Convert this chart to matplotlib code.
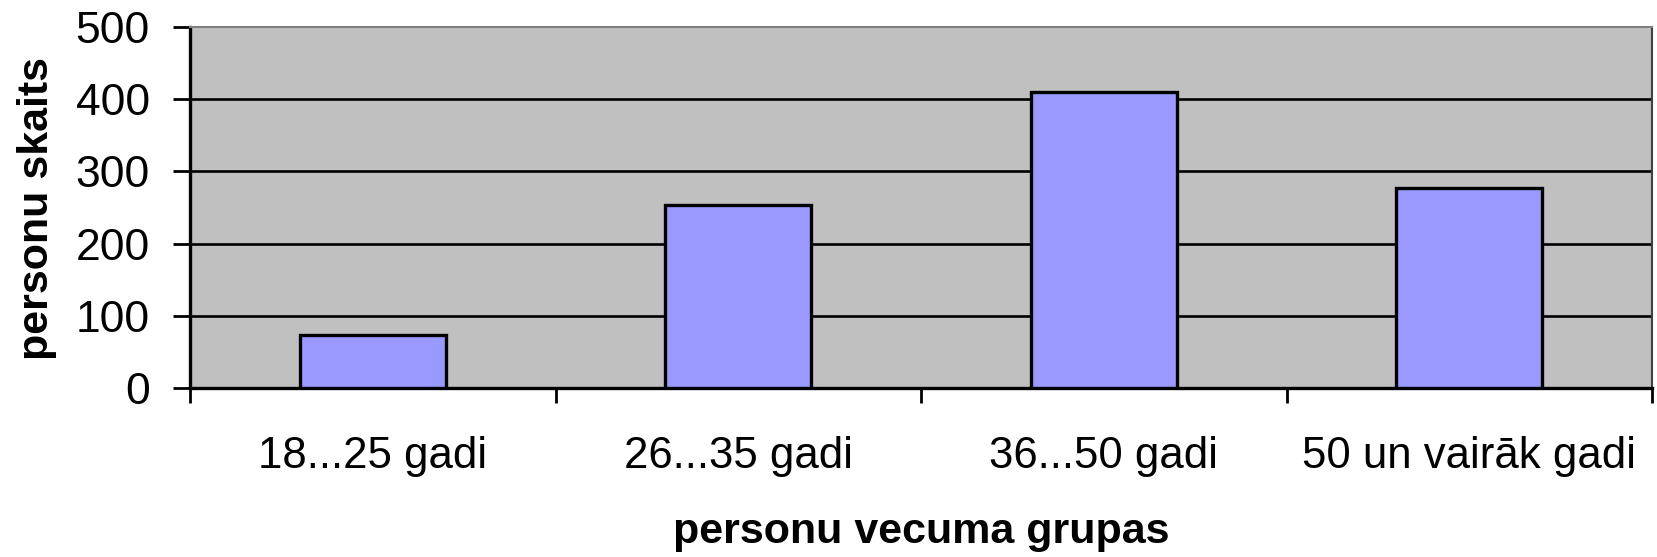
import matplotlib
matplotlib.use("Agg")
import matplotlib.pyplot as plt
import matplotlib.transforms as mtransforms
import numpy as np

categories = ["18...25 gadi", "26...35 gadi", "36...50 gadi", "50 un vairāk gadi"]
values = [73, 253, 410, 277]
y_ticks = [0, 100, 200, 300, 400, 500]

plt.rcParams['font.family'] = ['Liberation Sans', 'DejaVu Sans']

W, H = 1657, 557
fig = plt.figure(figsize=(W/100, H/100), dpi=100)
ax = fig.add_axes([190/W, 1-388/H, (1652-190)/W, (388-27)/H])
ax.set_facecolor('#c0c0c0')

x = np.arange(len(categories))
ax.bar(x, values, width=0.4, color='#9999ff', edgecolor='black', linewidth=2.4, zorder=3)

ax.set_xlim(-0.5, len(categories) - 0.5)
ax.set_ylim(0, 500)
ax.set_yticks(y_ticks)
ax.set_yticklabels([str(v) for v in y_ticks], fontsize=32)
for v in y_ticks[1:-1]:
    ax.axhline(v, color='black', linewidth=1.9, zorder=2)

ax.set_xticks(np.arange(-0.5, len(categories), 1.0))
ax.set_xticklabels([])
ax.tick_params(axis='x', which='major', length=11, width=2, direction='out')
ax.tick_params(axis='y', length=12, width=2, direction='out', pad=17)

trans = mtransforms.blended_transform_factory(ax.transData, fig.transFigure)
for xi, cat in zip(x, categories):
    ax.text(xi, 1 - 468/H, cat, transform=trans, ha='center', va='baseline', fontsize=31.5)

for s in ['left', 'bottom']:
    ax.spines[s].set_linewidth(2.4)
    ax.spines[s].set_color('black')
ax.spines['top'].set_color('#808080')
ax.spines['top'].set_linewidth(1.5)
ax.spines['right'].set_color('#404040')
ax.spines['right'].set_linewidth(1.5)

fig.text(37/W, 1 - 208/H, 'personu skaits', rotation=90, ha='center', va='center',
         fontsize=31, fontweight='bold')
fig.text((190 + 1652)/2/W, 1 - 543/H, 'personu vecuma grupas', ha='center', va='baseline',
         fontsize=31, fontweight='bold')

fig.savefig('out.png', dpi=100)
